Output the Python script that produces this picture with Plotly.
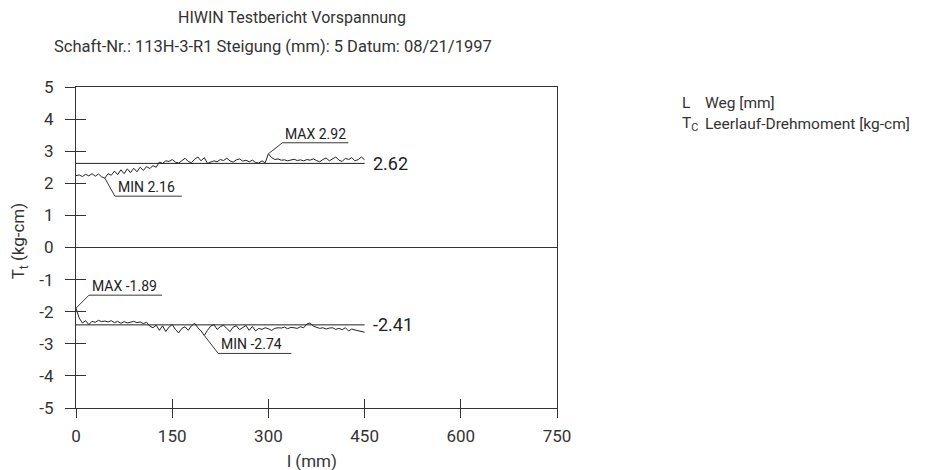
import plotly.graph_objects as go

# ---------------- data ----------------
x_mm = [i * 5 for i in range(91)]  # 0 .. 450 mm

tc_top = [2.24, 2.26, 2.21, 2.28, 2.23, 2.30, 2.22, 2.29, 2.20,
          2.16,
          2.30, 2.25, 2.38, 2.27, 2.42, 2.30, 2.45, 2.33, 2.47, 2.36, 2.50, 2.40, 2.52, 2.46, 2.55, 2.50,
          2.66, 2.62, 2.70, 2.68, 2.74, 2.66, 2.63, 2.71, 2.78, 2.68, 2.64, 2.75, 2.82, 2.70, 2.80,
          2.62, 2.66, 2.70, 2.67, 2.74, 2.71, 2.78, 2.70, 2.66, 2.73, 2.76, 2.69, 2.72, 2.67, 2.72,
          2.65, 2.63, 2.70, 2.64,
          2.92, 2.80,
          2.74, 2.76, 2.72, 2.73, 2.70, 2.72, 2.75, 2.71, 2.73, 2.70, 2.74, 2.72, 2.76, 2.71, 2.67,
          2.74, 2.79, 2.70, 2.76, 2.82, 2.72, 2.68, 2.78, 2.74, 2.80, 2.70, 2.74, 2.82, 2.73]

tc_bottom = [-1.89,
             -2.20, -2.35, -2.28, -2.40, -2.30, -2.33, -2.27, -2.31, -2.29,
             -2.32, -2.28, -2.34, -2.30, -2.36, -2.31, -2.35, -2.33, -2.30, -2.34, -2.32, -2.37, -2.33,
             -2.45, -2.50, -2.42, -2.58, -2.44, -2.62, -2.48, -2.40, -2.55, -2.66, -2.52, -2.47, -2.58,
             -2.44, -2.36, -2.50, -2.60,
             -2.74,
             -2.58, -2.45, -2.40, -2.55, -2.47, -2.42, -2.52, -2.62, -2.48, -2.44,
             -2.56, -2.50, -2.43, -2.58, -2.46, -2.60, -2.52, -2.55, -2.50, -2.53,
             -2.58, -2.52, -2.50, -2.51, -2.48, -2.53, -2.49, -2.50, -2.52, -2.47,
             -2.50, -2.38, -2.35, -2.45, -2.49, -2.52, -2.50, -2.54, -2.51, -2.50,
             -2.55, -2.52, -2.56, -2.50, -2.60, -2.54, -2.57, -2.59, -2.62, -2.64]

mean_top = 2.62
mean_bottom = -2.41

x_ticks = [0, 150, 300, 450, 600, 750]
y_ticks = [5, 4, 3, 2, 1, 0, -1, -2, -3, -4, -5]
y_tick_text = [str(v) for v in y_ticks]

title_1 = "HIWIN Testbericht Vorspannung"
title_2 = "Schaft-Nr.: 113H-3-R1 Steigung (mm): 5 Datum: 08/21/1997"

# ---------------- styling ----------------
COND = "Roboto, Liberation Sans Narrow, sans-serif"
REG = "Roboto, Noto Sans, sans-serif"
INK = "#222222"
AX = "#333333"
TXT = "#333333"

PX_X = 750 / 481.0   # mm per pixel
PX_Y = 10 / 321.0    # kg-cm per pixel

fig = go.Figure()

# main curves
for ys in (tc_top, tc_bottom):
    fig.add_trace(go.Scatter(x=x_mm, y=ys, mode="lines",
                             line=dict(color=INK, width=1), hoverinfo="skip",
                             showlegend=False))

# mean lines
for m in (mean_top, mean_bottom):
    fig.add_trace(go.Scatter(x=[x_mm[0], x_mm[-1]], y=[m, m], mode="lines",
                             line=dict(color=INK, width=1), hoverinfo="skip",
                             showlegend=False))
    fig.add_annotation(x=x_mm[-1], y=m, xref="x", yref="y", text=f"{m:.2f}",
                       showarrow=False, xanchor="left", yanchor="middle", xshift=6,
                       font=dict(family=REG, size=18, color=INK))


def callout(ys, idx, label, up, dx_px, dy_px, len_px):
    x0, y0 = x_mm[idx], ys[idx]
    dx = dx_px * PX_X
    dy = (dy_px if up else -dy_px) * PX_Y
    x1, y1 = x0 + dx, y0 + dy
    x2 = x1 + len_px * PX_X
    fig.add_trace(go.Scatter(x=[x0, x1, x2], y=[y0, y1, y1], mode="lines",
                             line=dict(color=INK, width=0.9), hoverinfo="skip",
                             showlegend=False))
    fig.add_annotation(x=x1, y=y1, xref="x", yref="y", text=label, showarrow=False,
                       xanchor="left", yanchor="bottom", xshift=1, yshift=-1,
                       font=dict(family=REG, size=14, color=INK))


i_tmax = tc_top.index(max(tc_top))
i_tmin = tc_top.index(min(tc_top))
i_bmax = tc_bottom.index(max(tc_bottom))
i_bmin = tc_bottom.index(min(tc_bottom))
callout(tc_top, i_tmax, f"MAX {max(tc_top):.2f}", True, 14, 11, 66)
callout(tc_top, i_tmin, f"MIN {min(tc_top):.2f}", False, 10, 18, 67)
callout(tc_bottom, i_bmax, f"MAX {max(tc_bottom):.2f}", True, 13, 13, 73)
callout(tc_bottom, i_bmin, f"MIN {min(tc_bottom):.2f}", False, 14, 18, 73)

# invisible trace for overlay axes (inside ticks)
fig.add_trace(go.Scatter(x=[0], y=[0], xaxis="x2", yaxis="y2", mode="markers",
                         marker=dict(opacity=0), hoverinfo="skip", showlegend=False))

tickfont = dict(family=COND, size=17, color=TXT)
fig.update_layout(
    width=919, height=462,
    margin=dict(l=68, r=370, t=79, b=62),
    paper_bgcolor="white", plot_bgcolor="white",
    showlegend=False,
    xaxis=dict(range=[0, 750], tickvals=x_ticks, ticks="outside", ticklen=9,
               tickcolor=AX, tickwidth=1, showline=True, linecolor=AX, linewidth=1,
               mirror=True, showgrid=False, zeroline=False, tickfont=tickfont,
               ticklabelstandoff=4),
    yaxis=dict(range=[-5, 5], tickvals=y_ticks, ticktext=y_tick_text, ticks="outside",
               ticklen=10, tickcolor=AX, tickwidth=1, showline=True, linecolor=AX,
               linewidth=1, mirror=True, showgrid=False, zeroline=True,
               zerolinecolor=AX, zerolinewidth=1, tickfont=tickfont,
               ticklabelstandoff=8),
    xaxis2=dict(range=[0, 750], tickvals=x_ticks, ticks="inside", ticklen=9,
                tickcolor=AX, tickwidth=1, showticklabels=False, showline=False,
                showgrid=False, zeroline=False, overlaying="x", anchor="y2"),
    yaxis2=dict(range=[-5, 5], tickvals=y_ticks, ticks="inside", ticklen=10,
                tickcolor=AX, tickwidth=1, showticklabels=False, showline=False,
                showgrid=False, zeroline=False, overlaying="y", anchor="x2"),
)

# titles
fig.add_annotation(x=0.449, y=1.215, xref="paper", yref="paper", text=title_1,
                   showarrow=False, xanchor="center", yanchor="middle",
                   font=dict(family=COND, size=16, color=TXT))
fig.add_annotation(x=0.4096, y=1.125, xref="paper", yref="paper", text=title_2,
                   showarrow=False, xanchor="center", yanchor="middle",
                   font=dict(family=COND, size=16.5, color=TXT))
# axis titles
fig.add_annotation(x=-0.118, y=0.52, xref="paper", yref="paper",
                   text="T<sub>t</sub> (kg-cm)", textangle=-90, showarrow=False,
                   xanchor="center", yanchor="middle",
                   font=dict(family=COND, size=17, color=TXT))
fig.add_annotation(x=0.49, y=-0.165, xref="paper", yref="paper",
                   text="l (mm)", showarrow=False, xanchor="center", yanchor="middle",
                   font=dict(family=COND, size=17, color=TXT))
# legend-like key
legend_rows = [("L", "Weg [mm]", 0.95), ("T<sub>C</sub>", "Leerlauf-Drehmoment [kg-cm]", 0.884)]
for sym, desc, yy in legend_rows:
    fig.add_annotation(x=1.2557, y=yy, xref="paper", yref="paper", text=sym,
                       showarrow=False, xanchor="left", yanchor="middle",
                       font=dict(family=COND, size=15.5, color=TXT))
    fig.add_annotation(x=1.3035, y=yy, xref="paper", yref="paper", text=desc,
                       showarrow=False, xanchor="left", yanchor="middle",
                       font=dict(family=COND, size=15.5, color=TXT))

fig.write_html("out.html")
